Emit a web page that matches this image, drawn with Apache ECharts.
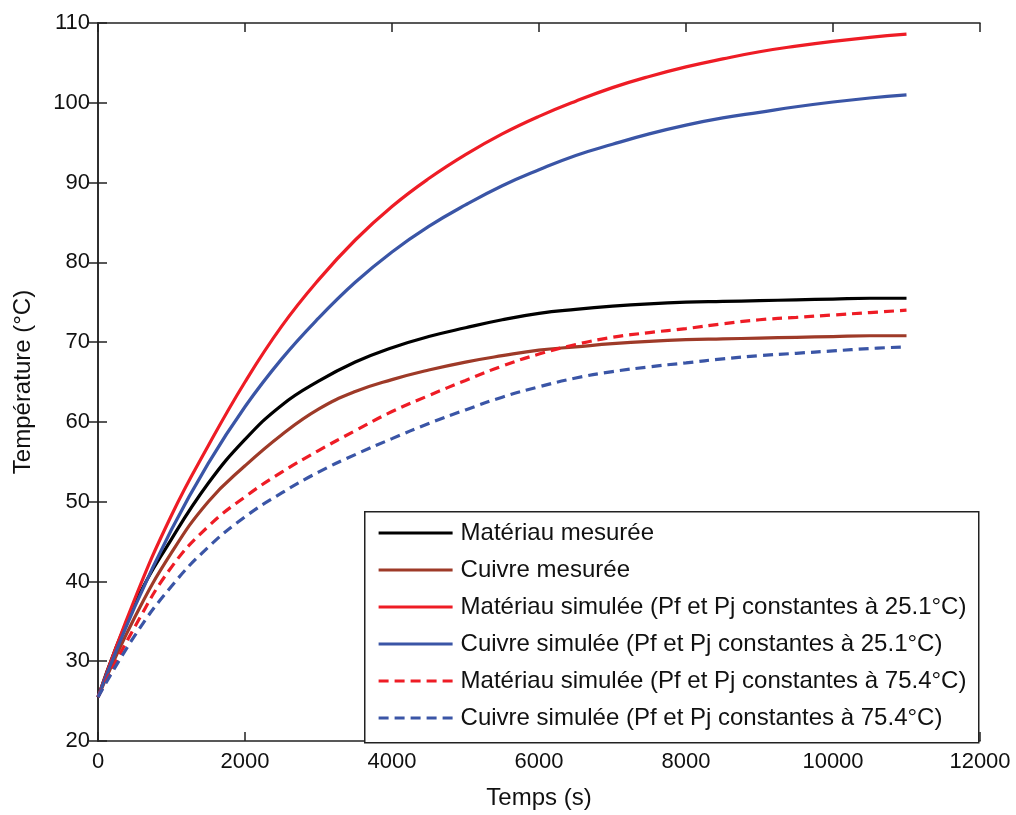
<!DOCTYPE html>
<html>
<head>
<meta charset="utf-8">
<script src="https://cdn.jsdelivr.net/npm/echarts@6/dist/echarts.min.js"></script>
<style>html,body{margin:0;padding:0;background:#fff}#c{width:1016px;height:815px}</style>
</head>
<body>
<div id="c"></div>
<script>
const timeS = [0,500,1000,1500,2000,2500,3000,3500,4000,4500,5000,5500,6000,6500,7000,7500,8000,8500,9000,9500,10000,10500,11000];
const materiauMesuree = [25.5,37.2,45.3,52.3,57.8,62.1,65.1,67.5,69.3,70.7,71.8,72.8,73.6,74.1,74.5,74.8,75.0,75.1,75.2,75.3,75.4,75.5,75.5];
const cuivreMesuree = [25.5,35.5,43.6,50,54.5,58.4,61.6,63.8,65.3,66.5,67.5,68.3,69,69.4,69.8,70.1,70.3,70.4,70.5,70.6,70.7,70.8,70.8];
const materiauSim25 = [25.5,37.8,48.3,57,65,72,77.8,82.8,87,90.5,93.5,96.1,98.3,100.2,101.9,103.3,104.5,105.5,106.4,107.1,107.7,108.2,108.6];
const cuivreSim25 = [25.5,36.8,46.5,54.8,61.9,67.9,73,77.5,81.3,84.5,87.2,89.6,91.6,93.4,94.8,96.1,97.2,98.1,98.8,99.5,100.1,100.6,101];
const materiauSim75 = [25.5,34.3,41.8,46.9,50.6,53.7,56.4,58.9,61.3,63.3,65.2,67,68.5,69.7,70.6,71.2,71.7,72.3,72.8,73.1,73.4,73.7,74.0];
const cuivreSim75 = [25.5,33.2,39.4,44.3,48.1,51.1,53.7,55.9,57.9,59.8,61.5,63.1,64.4,65.5,66.3,66.9,67.4,67.9,68.3,68.6,68.9,69.2,69.4];
const seriesNames = [
  'Matériau mesurée',
  'Cuivre mesurée',
  'Matériau simulée (Pf et Pj constantes à 25.1°C)',
  'Cuivre simulée (Pf et Pj constantes à 25.1°C)',
  'Matériau simulée (Pf et Pj constantes à 75.4°C)',
  'Cuivre simulée (Pf et Pj constantes à 75.4°C)'
];
const seriesData = [materiauMesuree, cuivreMesuree, materiauSim25, cuivreSim25, materiauSim75, cuivreSim75];
const colors = ['#000000','#9e3a28','#ee1c25','#3a55a6','#ee1c25','#3a55a6'];
const dashed = [false,false,false,false,true,true];

const FONT = 'Liberation Sans, Arial, sans-serif';
const chart = echarts.init(document.getElementById('c'));

const series = seriesNames.map((n,i)=>({
  name: n,
  type: 'line',
  data: timeS.map((t,j)=>[t, seriesData[i][j]]),
  showSymbol: false,
  symbol: 'none',
  smooth: 0.45,
  lineStyle: {color: colors[i], width: 3.2, type: dashed[i] ? [10,6] : 'solid'},
  itemStyle: {color: colors[i]},
  emphasis: {disabled: true},
  z: 2
}));

const axisLabelStyle = {color:'#111', fontSize: 22, fontFamily: FONT};
const tickStyle = {show: true, inside: true, length: 9, lineStyle: {color:'#222', width: 1.5}};
const lineStyleAx = {show: true, lineStyle: {color:'#222', width: 1.5}};

chart.setOption({
  animation: false,
  backgroundColor: '#fff',
  grid: {left: 98, right: 36, top: 23, bottom: 73, show: false},
  xAxis: [{
    type: 'value', min: 0, max: 12000, interval: 2000,
    name: 'Temps (s)', nameLocation: 'middle', nameGap: 45,
    nameTextStyle: {color:'#111', fontSize: 24, fontFamily: FONT},
    axisLine: lineStyleAx, axisTick: tickStyle,
    axisLabel: Object.assign({margin: 10, formatter: v => String(v)}, axisLabelStyle),
    splitLine: {show: false}
  },{
    type: 'value', min: 0, max: 12000, interval: 2000, position: 'top',
    axisLine: lineStyleAx, axisTick: tickStyle,
    axisLabel: {show: false}, splitLine: {show: false}
  }],
  yAxis: [{
    type: 'value', min: 20, max: 110, interval: 10,
    name: 'Température (°C)', nameLocation: 'middle', nameGap: 63,
    nameTextStyle: {color:'#111', fontSize: 24, fontFamily: FONT},
    axisLine: lineStyleAx, axisTick: tickStyle,
    axisLabel: Object.assign({margin: 8, formatter: v => String(v)}, axisLabelStyle),
    splitLine: {show: false}
  },{
    type: 'value', min: 20, max: 110, interval: 10, position: 'right',
    axisLine: lineStyleAx, axisTick: tickStyle,
    axisLabel: {show: false}, splitLine: {show: false}
  }],
  legend: {
    orient: 'vertical', left: 377, top: 521, z: 20,
    itemWidth: 74, itemHeight: 14, itemGap: 13,
    padding: 0,
    data: seriesNames,
    itemStyle: {opacity: 0},
    lineStyle: {width: 3.2},
    textStyle: {color:'#111', fontSize: 24, fontFamily: FONT, padding: [0,0,0,3]},
    selectedMode: false
  },
  graphic: [{
    type: 'rect', left: 364, top: 511, z: 15,
    shape: {width: 614, height: 231},
    style: {fill: '#fff', stroke: '#222', lineWidth: 1.5}
  }],
  series: series
});
</script>
</body>
</html>
